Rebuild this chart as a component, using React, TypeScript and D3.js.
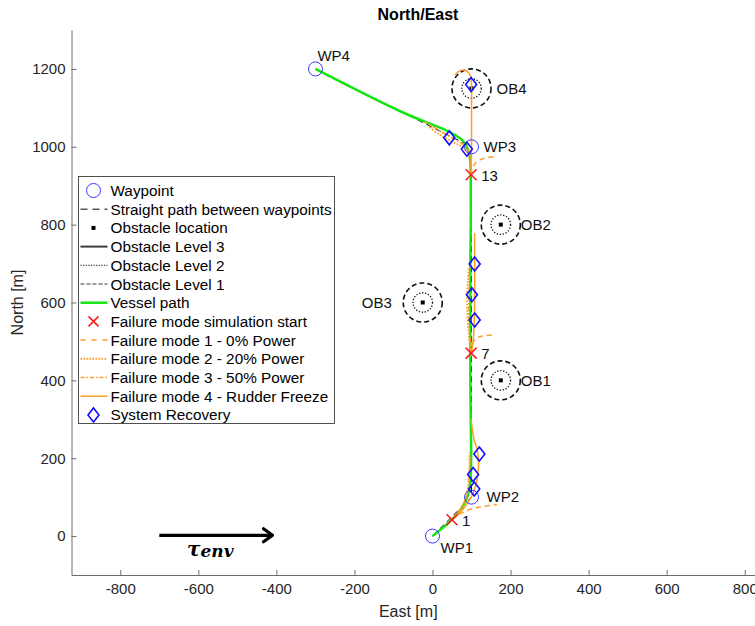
import React, { useEffect, useRef } from 'react';
import * as d3 from 'd3';

// axis ticks
const xTicks = [-800, -600, -400, -200, 0, 200, 400, 600, 800];
const yTicks = [0, 200, 400, 600, 800, 1000, 1200];

// waypoints
const waypointNames = ['WP1', 'WP2', 'WP3', 'WP4'];
const waypointX = [0, 100, 100, -300];
const waypointY = [0, 100, 1000, 1200];

// obstacles
const obstacleNames = ['OB1', 'OB2', 'OB3', 'OB4'];
const obstacleX = [175, 175, -25, 100];
const obstacleY = [400, 800, 600, 1150];
const level1Radius = 50;
const level2Radius = 25;

// vessel path [east, north]
const vesselPath = [
  [0, 0], [20, 16], [50, 42], [75, 72], [91, 106], [97, 140], [99, 200], [98, 300],
  [97, 400], [97, 500], [97, 600], [97, 700], [98, 800], [98, 900], [97, 960],
  [92, 990], [80, 1013], [60, 1029], [35, 1042], [-80, 1090], [-300, 1200],
];

// failure mode simulation starts
const failureIds = [1, 7, 13];
const failureX = [50, 99, 99];
const failureY = [42, 470, 928];

// failure mode trajectories, one per start
const mode1Paths = [
  [[50, 42], [68, 55], [85, 64], [105, 71], [130, 76], [165, 81]],
  [[99, 470], [101, 488], [107, 502], [118, 511], [135, 515], [162, 517]],
  [[99, 928], [102, 945], [110, 958], [125, 968], [145, 973], [162, 975]],
];
const mode2Paths = [
  [[50, 42], [72, 70], [86, 100], [93, 140], [95, 180], [95, 220]],
  [[99, 470], [95, 500], [91, 540], [89, 580], [89, 620], [91, 660], [93, 690]],
  [[99, 928], [97, 962], [90, 985], [75, 1000], [50, 1013], [20, 1030], [-10, 1052]],
];
const mode3Paths = [
  [[50, 42], [74, 72], [88, 105], [94, 150], [96, 200]],
  [[99, 470], [97, 500], [94, 540], [93, 600], [94, 650], [96, 700]],
  [[99, 928], [98, 965], [92, 990], [78, 1006], [55, 1020], [20, 1040], [-20, 1065]],
];
const mode4Paths = [
  [[50, 42], [70, 60], [88, 82], [105, 112], [115, 150], [118, 182], [115, 220], [106, 250], [99, 300]],
  [[99, 470], [104, 500], [107, 550], [108, 600], [108, 700], [108, 778]],
  [[99, 928], [100, 1000], [100, 1100], [100, 1160], [98, 1180], [90, 1193], [78, 1197], [66, 1193], [58, 1184]],
];

// system recovery points
const recoveryX = [107, 104, 120, 108, 101, 108, 88, 43, 99];
const recoveryY = [121, 158, 211, 555, 620, 699, 994, 1023, 1160];

// environment force arrow
const envArrowX = [-700, -410];
const envArrowY = 2;

const legendLabels = [
  'Waypoint',
  'Straight path between waypoints',
  'Obstacle location',
  'Obstacle Level 3',
  'Obstacle Level 2',
  'Obstacle Level 1',
  'Vessel path',
  'Failure mode simulation start',
  'Failure mode 1 - 0% Power',
  'Failure mode 2 - 20% Power',
  'Failure mode 3 - 50% Power',
  'Failure mode 4 - Rudder Freeze',
  'System Recovery',
];

const FONT = '"Liberation Sans", Arial, Helvetica, sans-serif';
const GREEN = '#14e614';
const ORANGE = '#ff9d26';
const BLUE = '#1010ff';

export default function App() {
  const svgRef = useRef(null);

  useEffect(() => {
    const W = 755, H = 626;
    const left = 71.5, right = 765, top = 30, bottom = 575;

    const svg = d3.select(svgRef.current).attr('width', W).attr('height', H).html('');
    svg.append('rect').attr('width', W).attr('height', H).attr('fill', '#fff');

    const x = d3.scaleLinear().domain([-925, 852]).range([left, right]);
    const y = d3.scaleLinear().domain([-100, 1300]).range([bottom, top]);

    svg.append('clipPath').attr('id', 'plotclip')
      .append('rect').attr('x', left).attr('y', top).attr('width', right - left).attr('height', bottom - top);

    // axes
    const fmt = d => String(d);
    const yAxis = svg.append('g').attr('transform', `translate(${left},0)`)
      .call(d3.axisLeft(y).tickValues(yTicks).tickFormat(fmt).tickSize(-5).tickSizeOuter(0).tickPadding(6));
    const xAxis = svg.append('g').attr('transform', `translate(0,${bottom})`)
      .call(d3.axisBottom(x).tickValues(xTicks).tickFormat(fmt).tickSize(-5).tickSizeOuter(0).tickPadding(8));
    [xAxis, yAxis].forEach(a => {
      a.select('.domain').attr('stroke', '#6e6e6e');
      a.selectAll('.tick line').attr('stroke', '#6e6e6e');
      a.selectAll('text').attr('fill', '#262626').style('font-family', FONT).style('font-size', '15px');
    });

    svg.append('text').attr('x', 418).attr('y', 20).attr('text-anchor', 'middle')
      .style('font-family', FONT).style('font-size', '16px').style('font-weight', 'bold')
      .attr('fill', '#000').text('North/East');
    svg.append('text').attr('x', (left + right) / 2 - 10).attr('y', 617).attr('text-anchor', 'middle')
      .style('font-family', FONT).style('font-size', '16px').attr('fill', '#262626').text('East [m]');
    svg.append('text').attr('transform', `translate(23,${(top + bottom) / 2}) rotate(-90)`)
      .attr('text-anchor', 'middle')
      .style('font-family', FONT).style('font-size', '16px').attr('fill', '#262626').text('North [m]');

    const g = svg.append('g').attr('clip-path', 'url(#plotclip)');
    const line = d3.line().x(d => x(d[0])).y(d => y(d[1]));
    const smooth = d3.line().x(d => x(d[0])).y(d => y(d[1])).curve(d3.curveCatmullRom.alpha(0.5));

    // obstacles
    obstacleNames.forEach((name, i) => {
      const cx = x(obstacleX[i]), cy = y(obstacleY[i]);
      g.append('circle').attr('cx', cx).attr('cy', cy).attr('r', x(level1Radius) - x(0))
        .attr('fill', 'none').attr('stroke', '#111').attr('stroke-width', 1.6).attr('stroke-dasharray', '5,3');
      g.append('circle').attr('cx', cx).attr('cy', cy).attr('r', x(level2Radius) - x(0))
        .attr('fill', 'none').attr('stroke', '#111').attr('stroke-width', 1.3).attr('stroke-dasharray', '1.3,1.7');
      g.append('rect').attr('x', cx - 2).attr('y', cy - 2).attr('width', 4).attr('height', 4).attr('fill', '#000');
    });
    const obLabelDx = { OB1: 20, OB2: 20, OB3: -31, OB4: 25 };
    obstacleNames.forEach((name, i) => {
      svg.append('text').attr('x', x(obstacleX[i]) + obLabelDx[name]).attr('y', y(obstacleY[i]) + 5.5)
        .attr('text-anchor', obLabelDx[name] < 0 ? 'end' : 'start')
        .style('font-family', FONT).style('font-size', '15px').attr('fill', '#111').text(name);
    });

    // straight path between waypoints
    g.append('path').datum(waypointX.map((wx, i) => [wx, waypointY[i]])).attr('d', line)
      .attr('fill', 'none').attr('stroke', '#000').attr('stroke-width', 1).attr('stroke-dasharray', '6,4');

    // failure modes
    const modeStyles = [
      { paths: mode1Paths, dash: '5,4', w: 1.5 },
      { paths: mode2Paths, dash: '1.6,1.6', w: 2 },
      { paths: mode3Paths, dash: '5,2,1.5,2', w: 1.5 },
      { paths: mode4Paths, dash: null, w: 1.5 },
    ];

    // vessel path
    g.append('path').datum(vesselPath).attr('d', smooth)
      .attr('fill', 'none').attr('stroke', GREEN).attr('stroke-width', 2.5);

    modeStyles.forEach(m => {
      m.paths.forEach(p => {
        g.append('path').datum(p).attr('d', smooth).attr('fill', 'none')
          .attr('stroke', ORANGE).attr('stroke-width', m.w)
          .attr('stroke-dasharray', m.dash);
      });
    });

    // waypoints
    waypointNames.forEach((name, i) => {
      g.append('circle').attr('cx', x(waypointX[i])).attr('cy', y(waypointY[i])).attr('r', 7)
        .attr('fill', 'none').attr('stroke', '#3a3aff').attr('stroke-width', 1);
    });
    const wpLabelOffset = { WP1: [8, 17], WP2: [15, 5], WP3: [12, 5], WP4: [2, -8] };
    waypointNames.forEach((name, i) => {
      const [dx, dy] = wpLabelOffset[name];
      svg.append('text').attr('x', x(waypointX[i]) + dx).attr('y', y(waypointY[i]) + dy)
        .style('font-family', FONT).style('font-size', '15px').attr('fill', '#111').text(name);
    });

    // failure starts
    failureIds.forEach((id, i) => {
      const cx = x(failureX[i]), cy = y(failureY[i]), s = 5.5;
      g.append('path').attr('d', `M${cx - s},${cy - s}L${cx + s},${cy + s}M${cx - s},${cy + s}L${cx + s},${cy - s}`)
        .attr('stroke', '#ff1a1a').attr('stroke-width', 1.5);
      svg.append('text').attr('x', cx + 10).attr('y', cy + 6)
        .style('font-family', FONT).style('font-size', '15px').attr('fill', '#111').text(id);
    });

    // system recovery
    const diamond = (cx, cy) => `M${cx},${cy - 7}L${cx + 5.5},${cy}L${cx},${cy + 7}L${cx - 5.5},${cy}Z`;
    recoveryX.forEach((rx, i) => {
      g.append('path').attr('d', diamond(x(rx), y(recoveryY[i])))
        .attr('fill', 'none').attr('stroke', BLUE).attr('stroke-width', 1.6);
    });

    // environment arrow
    const ax0 = x(envArrowX[0]), ax1 = x(envArrowX[1]), ay = y(envArrowY);
    svg.append('line').attr('x1', ax0).attr('x2', ax1 - 1).attr('y1', ay).attr('y2', ay)
      .attr('stroke', '#000').attr('stroke-width', 3.2);
    svg.append('path').attr('d', `M${ax1 - 9},${ay - 6.5}L${ax1},${ay}L${ax1 - 9},${ay + 6.5}`)
      .attr('fill', 'none').attr('stroke', '#000').attr('stroke-width', 3.2)
      .attr('stroke-linecap', 'round').attr('stroke-linejoin', 'round');
    const tau = svg.append('text').attr('x', 187).attr('y', 556)
      .style('font-family', '"DejaVu Serif", serif').style('font-style', 'italic')
      .attr('fill', '#000');
    tau.append('tspan').style('font-size', '20px').style('font-weight', 'bold').text('τ');
    tau.append('tspan').style('font-size', '17px').style('font-weight', 'bold').attr('dy', 1).text('env');

    // legend
    const lx = 78.5, ly = 176.5, lw = 256, lh = 247, row = 18.7;
    const leg = svg.append('g');
    leg.append('rect').attr('x', lx).attr('y', ly).attr('width', lw).attr('height', lh)
      .attr('fill', '#fff').attr('stroke', '#262626').attr('stroke-width', 0.8);
    legendLabels.forEach((label, i) => {
      const cy = ly + 14 + i * row;
      const s0 = lx + 2, s1 = lx + 29, sc = lx + 15;
      const item = leg.append('g');
      const seg = (stroke, w, dash) => item.append('line').attr('x1', s0).attr('x2', s1).attr('y1', cy).attr('y2', cy)
        .attr('stroke', stroke).attr('stroke-width', w).attr('stroke-dasharray', dash);
      if (i === 0) item.append('circle').attr('cx', sc).attr('cy', cy).attr('r', 7).attr('fill', 'none').attr('stroke', '#3a3aff');
      if (i === 1) seg('#000', 1, '7,5');
      if (i === 2) item.append('rect').attr('x', sc - 2).attr('y', cy - 2).attr('width', 4).attr('height', 4).attr('fill', '#000');
      if (i === 3) seg('#3c3c3c', 2, null);
      if (i === 4) seg('#3c3c3c', 1.2, '1.2,1.4');
      if (i === 5) seg('#3c3c3c', 1.2, '4,2');
      if (i === 6) seg(GREEN, 2.5, null);
      if (i === 7) item.append('path').attr('d', `M${sc - 5},${cy - 5}L${sc + 5},${cy + 5}M${sc - 5},${cy + 5}L${sc + 5},${cy - 5}`)
        .attr('stroke', '#ff1a1a').attr('stroke-width', 1.5);
      if (i === 8) seg(ORANGE, 1.5, '5,6');
      if (i === 9) seg(ORANGE, 2, '1.6,1.4');
      if (i === 10) seg(ORANGE, 1.5, '4,2,1.5,2');
      if (i === 11) seg(ORANGE, 1.5, null);
      if (i === 12) item.append('path').attr('d', diamond(sc, cy)).attr('fill', 'none').attr('stroke', BLUE).attr('stroke-width', 1.6);
      item.append('text').attr('x', lx + 32).attr('y', cy + 5.5)
        .style('font-family', FONT).style('font-size', '15.3px').attr('fill', '#000').text(label);
    });
  }, []);

  return <svg ref={svgRef} style={{ position: 'absolute', left: 0, top: 0, display: 'block' }} />;
}
